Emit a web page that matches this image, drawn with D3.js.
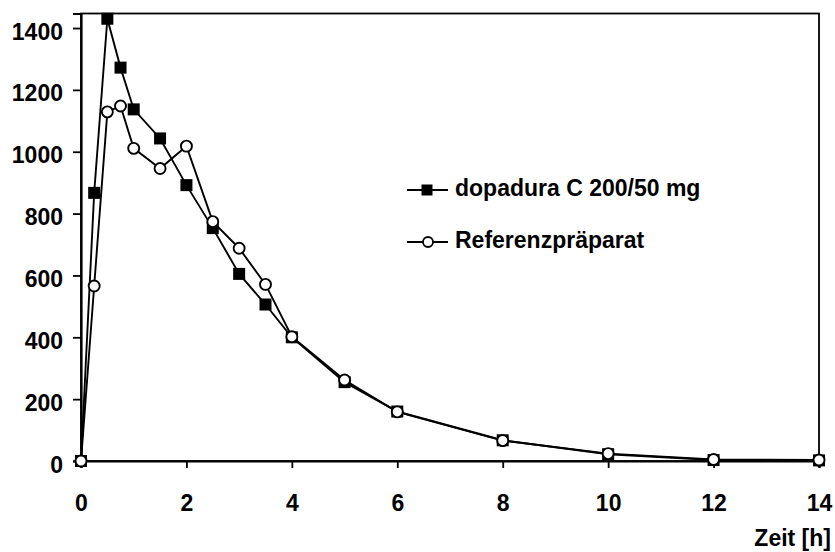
<!DOCTYPE html>
<html>
<head>
<meta charset="utf-8">
<script src="https://cdn.jsdelivr.net/npm/d3@7/dist/d3.min.js"></script>
<style>
  html, body { margin: 0; padding: 0; background: #fff; }
  svg { display: block; }
  text { font-family: "Liberation Sans", Arial, Helvetica, sans-serif; font-weight: bold; fill: #000; }
</style>
</head>
<body>
<svg id="chart" width="835" height="552"></svg>
<script>
// ---- data ----
const times = [0, 0.25, 0.5, 0.75, 1, 1.5, 2, 2.5, 3, 3.5, 4, 5, 6, 8, 10, 12, 14];
const dopadura = [0, 867, 1430, 1272, 1137, 1043, 892, 753, 605, 506, 400, 255, 160, 67, 22, 3, 2];
const referenz = [0, 566, 1129, 1148, 1011, 946, 1018, 774, 688, 571, 402, 262, 159, 66, 24, 5, 3];
const seriesNames = ["dopadura C 200/50 mg", "Referenzpräparat"];
const xTicks = [0, 2, 4, 6, 8, 10, 12, 14];
const yTicks = [0, 200, 400, 600, 800, 1000, 1200, 1400];
const xTitle = "Zeit [h]";

(function () {
// ---- layout ----
const svg = d3.select("#chart");
const pLeft = 81, pRight = 819, pTop = 13.5, pBottom = 461;
const fs = "23px";

const x = d3.scaleLinear().domain([0, 14]).range([pLeft, pRight]);
const y = d3.scaleLinear().domain([0, 1447]).range([pBottom, pTop]);

// frame
svg.append("rect")
  .attr("x", pLeft).attr("y", pTop)
  .attr("width", pRight - pLeft).attr("height", pBottom - pTop)
  .attr("fill", "none").attr("stroke", "#000").attr("stroke-width", 1.8);

// y axis
const yAxis = svg.append("g")
  .attr("transform", `translate(${pLeft},0)`)
  .call(d3.axisLeft(y).tickValues(yTicks).tickSize(8).tickPadding(10).tickFormat(d3.format("d")));
yAxis.select(".domain").attr("stroke-width", 2.2);
yAxis.selectAll(".tick line").attr("stroke-width", 1.8);
yAxis.selectAll(".tick text")
  .attr("dy", "0.48em")
  .style("font-size", fs)
  .style("font-family", "'Liberation Sans', Arial, sans-serif")
  .style("font-weight", "bold")
  .attr("fill", "#000");

// x axis
const xAxis = svg.append("g")
  .attr("transform", `translate(0,${pBottom})`)
  .call(d3.axisBottom(x).tickValues(xTicks).tickSize(7).tickFormat(d3.format("d")));
xAxis.select(".domain").attr("stroke-width", 2.2);
xAxis.selectAll(".tick line").attr("stroke-width", 1.8);
xAxis.selectAll(".tick text")
  .attr("y", 50).attr("dy", 0)
  .style("font-size", fs)
  .style("font-family", "'Liberation Sans', Arial, sans-serif")
  .style("font-weight", "bold")
  .attr("fill", "#000");

svg.append("text")
  .attr("x", 831).attr("y", 546)
  .attr("text-anchor", "end")
  .style("font-size", fs)
  .text(xTitle);

const line = d3.line().x(d => x(d[0])).y(d => y(d[1]));
const dataA = times.map((t, i) => [t, dopadura[i]]);
const dataB = times.map((t, i) => [t, referenz[i]]);
const sq = 12, r = 5.5;

// series A (squares)
svg.append("path").datum(dataA)
  .attr("d", line).attr("fill", "none").attr("stroke", "#000").attr("stroke-width", 1.9);
svg.append("g").selectAll("rect").data(dataA).join("rect")
  .attr("x", d => x(d[0]) - sq / 2).attr("y", d => y(d[1]) - sq / 2)
  .attr("width", sq).attr("height", sq).attr("fill", "#000");

// series B (circles)
svg.append("path").datum(dataB)
  .attr("d", line).attr("fill", "none").attr("stroke", "#000").attr("stroke-width", 1.9);
svg.append("g").selectAll("circle").data(dataB).join("circle")
  .attr("cx", d => x(d[0])).attr("cy", d => y(d[1])).attr("r", r)
  .attr("fill", "#fff").attr("stroke", "#000").attr("stroke-width", 1.9);

// legend
const lg = svg.append("g");
const legY = [190, 242];
seriesNames.forEach((name, i) => {
  const yy = legY[i];
  lg.append("line").attr("x1", 407).attr("x2", 448).attr("y1", yy).attr("y2", yy)
    .attr("stroke", "#000").attr("stroke-width", 1.8);
  if (i === 0) {
    lg.append("rect").attr("x", 427 - 5.5).attr("y", yy - 5.5)
      .attr("width", 11).attr("height", 11).attr("fill", "#000");
  } else {
    lg.append("circle").attr("cx", 428).attr("cy", yy).attr("r", 5)
      .attr("fill", "#fff").attr("stroke", "#000").attr("stroke-width", 1.8);
  }
  lg.append("text").attr("x", 455).attr("y", yy + 6)
    .style("font-size", fs).text(name);
});
})();
</script>
</body>
</html>
